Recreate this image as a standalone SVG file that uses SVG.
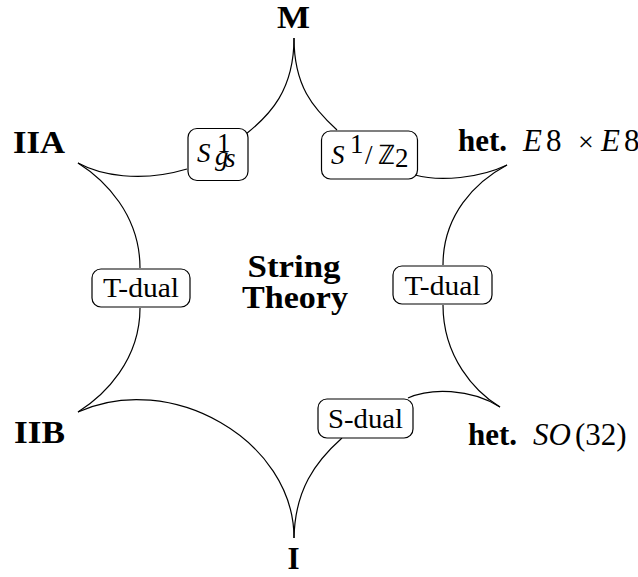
<svg xmlns="http://www.w3.org/2000/svg" width="638" height="577" viewBox="0 0 638 577" font-family="Liberation Serif, Times New Roman, serif">
<style>
.lbl{font-size:31px;font-weight:bold;fill:#000}
.it{font-style:italic;font-weight:normal}
.rm{font-weight:normal}
.box{fill:#fff;stroke:#000;stroke-width:1.2}
.bt{font-size:27px;fill:#000}
.edge{fill:none;stroke:#000;stroke-width:1.2}
</style>
<rect width="638" height="577" fill="#fff"/>
<g id="connectors">
<path class="edge" d="M294,38 C294,90 270,115 246,134"/>
<path class="edge" d="M294,38 C294,86 313,108 337,130"/>
<path class="edge" d="M78,163 C100,175 140,183 187,169"/>
<path class="edge" d="M78,163 C105,180 140,215 140,268"/>
<path class="edge" d="M140,308 C140,360 105,395 78,412"/>
<path class="edge" d="M78,412 C170,370 294,440 294,538"/>
<path class="edge" d="M294,538 C295,490 315,462 342,438"/>
<path class="edge" d="M408,398 C430,388 470,388 500,407"/>
<path class="edge" d="M443,305 C443,357 475,392 500,407"/>
<path class="edge" d="M443,265 C443,215 475,182 507,165"/>
<path class="edge" d="M415,175 C440,182 480,178 507,165"/>
</g>
<g id="M"><text class="lbl" x="293.5" y="28" text-anchor="middle" textLength="33" lengthAdjust="spacingAndGlyphs">M</text></g>
<g id="IIA"><text class="lbl" x="13" y="153" textLength="52" lengthAdjust="spacingAndGlyphs">IIA</text></g>
<g id="IIB"><text class="lbl" x="14" y="443" textLength="51" lengthAdjust="spacingAndGlyphs">IIB</text></g>
<g id="I"><text class="lbl" x="293.5" y="569" text-anchor="middle">I</text></g>
<g id="hetE8"><text class="lbl" y="151"><tspan x="458">het.</tspan><tspan class="it" x="523">E</tspan><tspan class="rm" x="546">8</tspan><tspan class="rm" x="578" font-size="28">×</tspan><tspan class="it" x="601">E</tspan><tspan class="rm" x="624">8</tspan></text></g>
<g id="hetSO32"><text class="lbl" y="445"><tspan x="468">het.</tspan><tspan class="it" x="533">SO</tspan><tspan class="rm" x="575">(32)</tspan></text></g>
<g id="center"><text class="lbl" x="294" y="277" text-anchor="middle" textLength="93" lengthAdjust="spacingAndGlyphs">String</text><text class="lbl" x="295" y="308" text-anchor="middle" textLength="106" lengthAdjust="spacingAndGlyphs">Theory</text></g>
<g id="Sgs">
<rect class="box" x="188" y="128.5" width="60" height="52" rx="9"/>
<text class="bt" x="197" y="162" font-style="italic">S</text>
<text class="bt" x="217" y="152" font-size="17">1</text>
<text class="bt" x="215" y="165" font-size="17" font-style="italic">g</text>
<text class="bt" x="225" y="167" font-size="13" font-style="italic">s</text>
</g>
<g id="SZ2">
<rect class="box" x="321.5" y="131" width="96" height="48" rx="9"/>
<text class="bt" x="331" y="164" font-style="italic">S</text>
<text class="bt" x="350" y="153" font-size="18">1</text>
<text class="bt" x="365" y="164" font-size="30">/</text>
<text class="bt" x="378" y="164" font-size="25">ℤ</text>
<text class="bt" x="395" y="167" font-size="18">2</text>
</g>
<g id="Tdual-left">
<rect class="box" x="92" y="269" width="98" height="38" rx="9"/>
<text class="bt" x="141" y="297" text-anchor="middle" textLength="76" lengthAdjust="spacingAndGlyphs">T-dual</text>
</g>
<g id="Tdual-right">
<rect class="box" x="393" y="266" width="99" height="38" rx="9"/>
<text class="bt" x="442.5" y="295" text-anchor="middle" textLength="76" lengthAdjust="spacingAndGlyphs">T-dual</text>
</g>
<g id="Sdual">
<rect class="box" x="318" y="399" width="95" height="39" rx="9"/>
<text class="bt" x="365.5" y="428" text-anchor="middle" textLength="75" lengthAdjust="spacingAndGlyphs">S-dual</text>
</g>
</svg>
